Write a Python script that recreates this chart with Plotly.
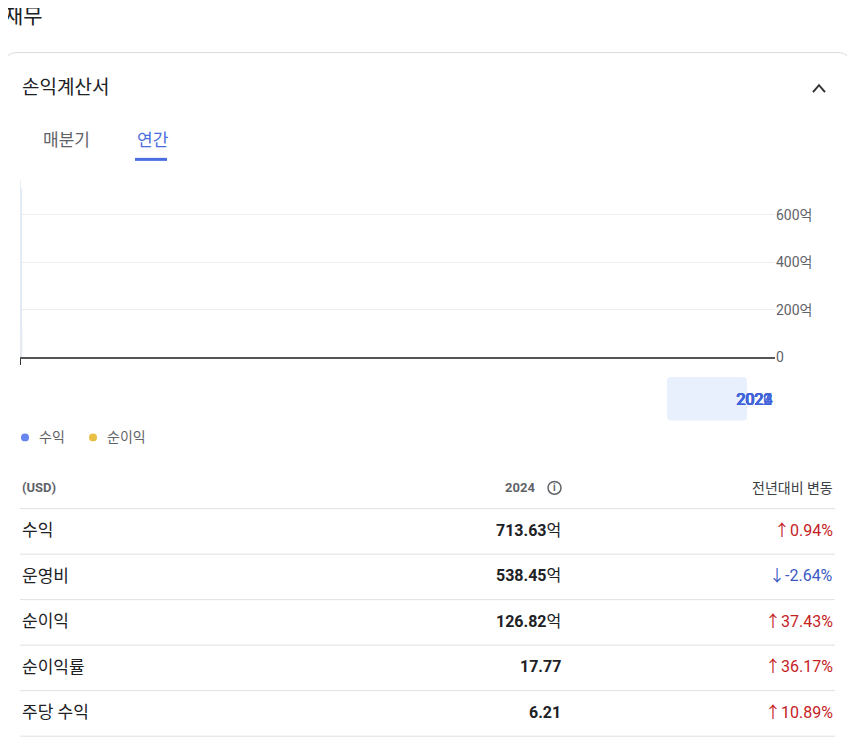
import plotly.graph_objects as go

W, H = 855, 753
OFF = 8  # page body margin compensation

years = ["2020", "2021", "2022", "2023", "2024"]
revenue = [592, 746, 704, 704, 713.63]
net_income = [112, 217, 146, 92, 126.82]
y_ticks = [0, 200, 400, 600]
y_tick_text = ["0", "200억", "400억", "600억"]

row_labels = ["수익", "운영비", "순이익", "순이익률", "주당 수익"]
row_values = ["713.63억", "538.45억", "126.82억", "17.77", "6.21"]
row_changes = ["↑0.94%", "↓-2.64%", "↑37.43%", "↑36.17%", "↑10.89%"]

BLUE = "#6685ee"
GOLD = "#eabf45"
RED = "#c5221f"
DOWN = "#3c5bc4"
FONT = "Roboto, Noto Sans CJK KR"


def px(x):
    return (x - OFF) / W


def py(y):
    return 1 - (y - OFF) / H


fig = go.Figure()
fig.add_trace(go.Bar(x=years, y=revenue, marker_color=BLUE, showlegend=False,
                     marker_cornerradius=4, hoverinfo="skip"))
fig.add_trace(go.Bar(x=years, y=net_income, marker_color=GOLD, showlegend=False,
                     marker_cornerradius=4, hoverinfo="skip"))

shapes = []
ann = []

# card border (rounded)
x0, y0, x1, y1, r = 5, 53, 850, 770, 12
shapes.append(dict(
    type="path", xref="paper", yref="paper",
    path=(f"M {px(x0)} {py(y1)} L {px(x0)} {py(y0 + r)} "
          f"Q {px(x0)} {py(y0)} {px(x0 + r)} {py(y0)} "
          f"L {px(x1 - r)} {py(y0)} Q {px(x1)} {py(y0)} {px(x1)} {py(y0 + r)} "
          f"L {px(x1)} {py(y1)}"),
    line=dict(color="#dadce0", width=1)))

# highlight behind 2024
hx0, hy0, hx1, hy1, hr = 667, 381, 747, 425, 4
shapes.append(dict(
    type="path", xref="paper", yref="paper", layer="below",
    path=(f"M {px(hx0 + hr)} {py(hy0)} L {px(hx1 - hr)} {py(hy0)} "
          f"Q {px(hx1)} {py(hy0)} {px(hx1)} {py(hy0 + hr)} L {px(hx1)} {py(hy1 - hr)} "
          f"Q {px(hx1)} {py(hy1)} {px(hx1 - hr)} {py(hy1)} L {px(hx0 + hr)} {py(hy1)} "
          f"Q {px(hx0)} {py(hy1)} {px(hx0)} {py(hy1 - hr)} L {px(hx0)} {py(hy0 + hr)} "
          f"Q {px(hx0)} {py(hy0)} {px(hx0 + hr)} {py(hy0)} Z"),
    fillcolor="#e8f0fe", line_width=0))

# tab underline
shapes.append(dict(type="line", xref="paper", yref="paper",
                   x0=px(135), x1=px(167), y0=py(161), y1=py(161),
                   line=dict(color="#4a6ee0", width=3)))

# chevron
shapes.append(dict(type="path", xref="paper", yref="paper",
                   path=f"M {px(813)} {py(93)} L {px(819)} {py(86)} L {px(825)} {py(93)}",
                   line=dict(color="#333", width=2)))

ann.append(dict(x=px(2), y=py(16), text="재무", font=dict(size=21, color="#202124")))
ann.append(dict(x=px(20), y=py(88), text="손익계산서", font=dict(size=19, color="#202124")))
ann.append(dict(x=px(41), y=py(141), text="매분기", font=dict(size=17, color="#5f6368")))
ann.append(dict(x=px(135), y=py(141), text="연간", font=dict(size=17, color="#4a6ee0")))

# x labels
for yr in years:
    ann.append(dict(x=yr, xref="x", y=py(404), text=yr, xanchor="center",
                    font=dict(size=16, color="#3f63d8")))

# legend
for x, c, t in [(25, BLUE, "수익"), (93, GOLD, "순이익")]:
    shapes.append(dict(type="circle", xref="paper", yref="paper",
                       x0=px(x - 4), x1=px(x + 4), y0=py(446), y1=py(438),
                       fillcolor=c, line_width=0))
    ann.append(dict(x=px(x + 12), y=py(442), text=t, font=dict(size=14, color="#5f6368")))

# table header
ann.append(dict(x=px(20), y=py(493), text="<b>(USD)</b>", font=dict(size=13, color="#5f6368")))
ann.append(dict(x=px(537), y=py(493), text="<b>2024</b>", xanchor="right",
                font=dict(size=13, color="#5f6368")))
shapes.append(dict(type="circle", xref="paper", yref="paper",
                   x0=px(548), x1=px(561), y0=py(499.5), y1=py(486.5),
                   line=dict(color="#5f6368", width=1.5)))
ann.append(dict(x=px(554.5), y=py(493), text="<b>i</b>", xanchor="center",
                font=dict(size=10, color="#5f6368")))
ann.append(dict(x=px(835), y=py(493), text="전년대비 변동", xanchor="right",
                font=dict(size=14, color="#3c4043")))

for k, (lab, val, ch) in enumerate(zip(row_labels, row_values, row_changes)):
    yy = 536 + 46 * k
    shapes.append(dict(type="line", xref="paper", yref="paper", x0=px(20), x1=px(835),
                       y0=py(yy - 22), y1=py(yy - 22), line=dict(color="#e0e0e0", width=1)))
    ann.append(dict(x=px(20), y=py(yy), text=lab, font=dict(size=17, color="#202124")))
    if val.endswith("억"):
        txt = f"<b>{val[:-1]}</b>억"
    else:
        txt = f"<b>{val}</b>"
    ann.append(dict(x=px(563), y=py(yy), text=txt, xanchor="right",
                    font=dict(size=16, color="#202124")))
    col = RED if ch.startswith("↑") else DOWN
    ann.append(dict(x=px(835), y=py(yy), text=ch, xanchor="right",
                    font=dict(size=16, color=col)))
shapes.append(dict(type="line", xref="paper", yref="paper", x0=px(20), x1=px(835),
                   y0=py(744), y1=py(744), line=dict(color="#e0e0e0", width=1)))

for a in ann:
    a.setdefault("xref", "paper")
    a.setdefault("yref", "paper")
    a.setdefault("xanchor", "left")
    a["yanchor"] = "middle"
    a["showarrow"] = False

fig.update_layout(
    width=W, height=H, margin=dict(l=0, r=0, t=0, b=0),
    plot_bgcolor="white", paper_bgcolor="white",
    font=dict(family=FONT),
    barmode="group", bargap=0.65, bargroupgap=0.1,
    shapes=shapes, annotations=ann,
    xaxis=dict(type="category", domain=[px(20), px(775)], showticklabels=False,
               ticks="outside", ticklen=6, tickcolor="#333",
               showline=True, linecolor="#555", linewidth=1.5),
    yaxis=dict(domain=[py(361), py(169)], range=[0, 800], side="right",
               tickvals=y_ticks, ticktext=y_tick_text, gridcolor="#eeeeee",
               zeroline=False, ticks="", tickfont=dict(size=14, color="#5f6368")),
)

fig.write_html("out.html")
